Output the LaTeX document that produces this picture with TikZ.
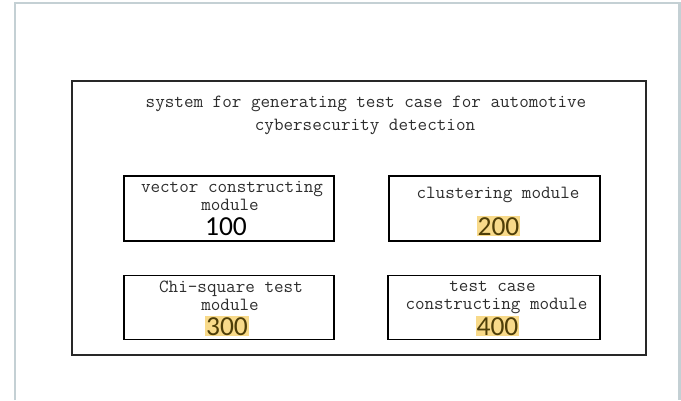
\documentclass[tikz,border=0pt]{standalone}
\usepackage{fontspec}
\newfontfamily\numfnt{Carlito}
\definecolor{framegrey}{RGB}{196,208,212}
\definecolor{hilite}{RGB}{248,218,138}
\definecolor{numdark}{RGB}{78,62,8}
\definecolor{txtgrey}{RGB}{45,45,45}
\begin{document}
\begin{tikzpicture}[x=1pt,y=-1pt,
  modbox/.style={draw=black,line width=1.6pt,inner sep=0pt},
  sysbox/.style={draw={rgb,255:red,40;green,40;blue,40},line width=1.4pt,inner sep=0pt},
  mtext/.style={font=\ttfamily\fontsize{18.6}{20}\selectfont,text=txtgrey,anchor=base,inner sep=0pt},
  numtext/.style={font=\numfnt\fontsize{27.5}{30}\selectfont,anchor=base,inner sep=1pt,outer sep=0pt},
  hinum/.style={numtext,fill=hilite,text=numdark}]
\useasboundingbox (0,0) rectangle (681,400);
% outer light frame
\draw[framegrey,line width=2.6pt] (15,400) -- (15,3) -- (679.5,3) -- (679.5,400);
% system box
\node[sysbox,minimum width=574pt,minimum height=274pt] (sys) at (359,218) {};
\node[mtext] (t1) at (366,107) {system for generating test case for automotive};
\node[mtext] (t2) at (365,130) {cybersecurity detection};
% module boxes
\node[modbox,minimum width=210pt,minimum height=65pt] (m100) at (229,208.5) {};
\node[modbox,minimum width=211pt,minimum height=65pt] (m200) at (494.5,208.5) {};
\node[modbox,minimum width=210pt,minimum height=64pt] (m300) at (229,307.5) {};
\node[modbox,minimum width=212pt,minimum height=64pt] (m400) at (494,307.5) {};
% texts box 100
\node[mtext] (a1) at (232,192) {vector constructing};
\node[mtext] (a2) at (230,210) {module};
\node[numtext] (n100) at (226,235) {100};
% box 200
\node[mtext] (b1) at (498,198) {clustering module};
\node[hinum] (n200) at (498.5,235) {200};
% box 300
\node[mtext] (c1) at (231,292) {Chi-square test};
\node[mtext] (c2) at (230,310) {module};
\node[hinum] (n300) at (227,335) {300};
% box 400
\node[mtext] (d1) at (492.5,291) {test case};
\node[mtext] (d2) at (496.5,309) {constructing module};
\node[hinum] (n400) at (497.5,335) {400};
\end{tikzpicture}
\end{document}
